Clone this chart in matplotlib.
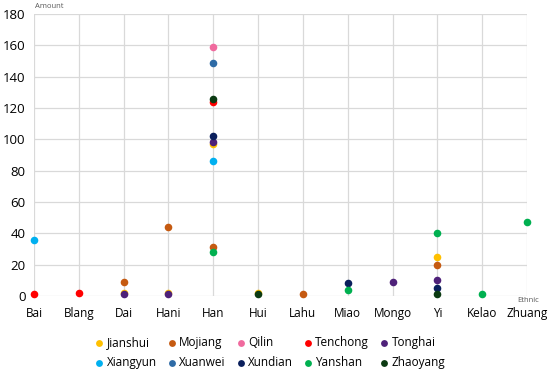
import matplotlib
matplotlib.use("Agg")
import matplotlib.pyplot as plt
import numpy as np

nan = np.nan
ethnic = ["Bai", "Blang", "Dai", "Hani", "Han", "Hui", "Lahu", "Miao",
          "Mongo", "Yi", "Kelao", "Zhuang"]

# amounts per ethnic group for each county (nan = not present)
jianshui = [nan, nan, 2, 2, 97, 2, nan, nan, nan, 25, nan, nan]
mojiang = [nan, nan, 9, 44, 31, nan, 1, nan, nan, 20, nan, nan]
qilin = [nan, nan, nan, nan, 159, nan, nan, nan, nan, nan, nan, nan]
tenchong = [1, 2, nan, nan, 124, nan, nan, nan, nan, nan, nan, nan]
tonghai = [nan, nan, 1, 1, 98, nan, nan, nan, 9, 10, nan, nan]
xiangyun = [36, nan, nan, nan, 86, nan, nan, nan, nan, nan, nan, nan]
xuanwei = [nan, nan, nan, nan, 149, nan, nan, nan, nan, nan, nan, nan]
xundian = [nan, nan, nan, nan, 102, nan, nan, 8, nan, 5, nan, nan]
yanshan = [nan, nan, nan, nan, 28, nan, nan, 4, nan, 40, 1, 47]
zhaoyang = [nan, nan, nan, nan, 126, 1, nan, nan, nan, 1, nan, nan]

series = [
    ("Jianshui", jianshui, "#FFC000"),
    ("Mojiang", mojiang, "#C55A11"),
    ("Qilin", qilin, "#F06A9E"),
    ("Tenchong", tenchong, "#FF0000"),
    ("Tonghai", tonghai, "#4E2179"),
    ("Xiangyun", xiangyun, "#00B0F0"),
    ("Xuanwei", xuanwei, "#2E6BA6"),
    ("Xundian", xundian, "#0A1F5C"),
    ("Yanshan", yanshan, "#00B050"),
    ("Zhaoyang", zhaoyang, "#0B3A12"),
]

plt.rcParams['font.family'] = ['Open Sans', 'DejaVu Sans']

fig = plt.figure(figsize=(5.5, 3.73), dpi=100)
ax = fig.add_axes([34 / 550, 1 - 296 / 373, (527 - 34) / 550, (296 - 14) / 373])

x = np.arange(len(ethnic))
handles = {}
for name, vals, col in series:
    h = ax.scatter(x, vals, s=30, color=col, label=name, zorder=3,
                   clip_on=False, linewidths=0)
    handles[name] = h

ax.set_xlim(0, len(ethnic) - 1)
ax.set_ylim(0, 180)
ax.set_yticks(range(0, 181, 20))
ax.set_xticks(x)
ax.set_xticklabels(ethnic)
ax.grid(True, color="#D9D9D9", linewidth=0.9, zorder=0)
ax.set_axisbelow(True)
for s in ax.spines.values():
    s.set_visible(False)
ax.tick_params(length=0, colors="black")
ax.tick_params(axis="x", pad=8, labelsize=8.5)
ax.tick_params(axis="y", pad=6, labelsize=9.5)

fig.text(35 / 550, 1 - 7 / 373, "Amount", fontsize=5.5, color="#595959",
         va="center", ha="left")
fig.text(517 / 550, 1 - 301 / 373, "Ethnic", fontsize=5.5, color="#595959",
         va="center", ha="left")

# legend fills column-wise, so interleave the two rows
row1 = ["Jianshui", "Mojiang", "Qilin", "Tenchong", "Tonghai"]
row2 = ["Xiangyun", "Xuanwei", "Xundian", "Yanshan", "Zhaoyang"]
order = []
for a, b in zip(row1, row2):
    order += [a, b]
leg = fig.legend([handles[n] for n in order], order, ncol=5,
                 loc="center", bbox_to_anchor=(270 / 550, 1 - 352.5 / 373),
                 frameon=False, fontsize=8.5, handletextpad=0.2,
                 columnspacing=0.9, labelspacing=0.55, markerscale=0.9,
                 handlelength=0.8, borderaxespad=0)

fig.savefig("out.png", dpi=100)
